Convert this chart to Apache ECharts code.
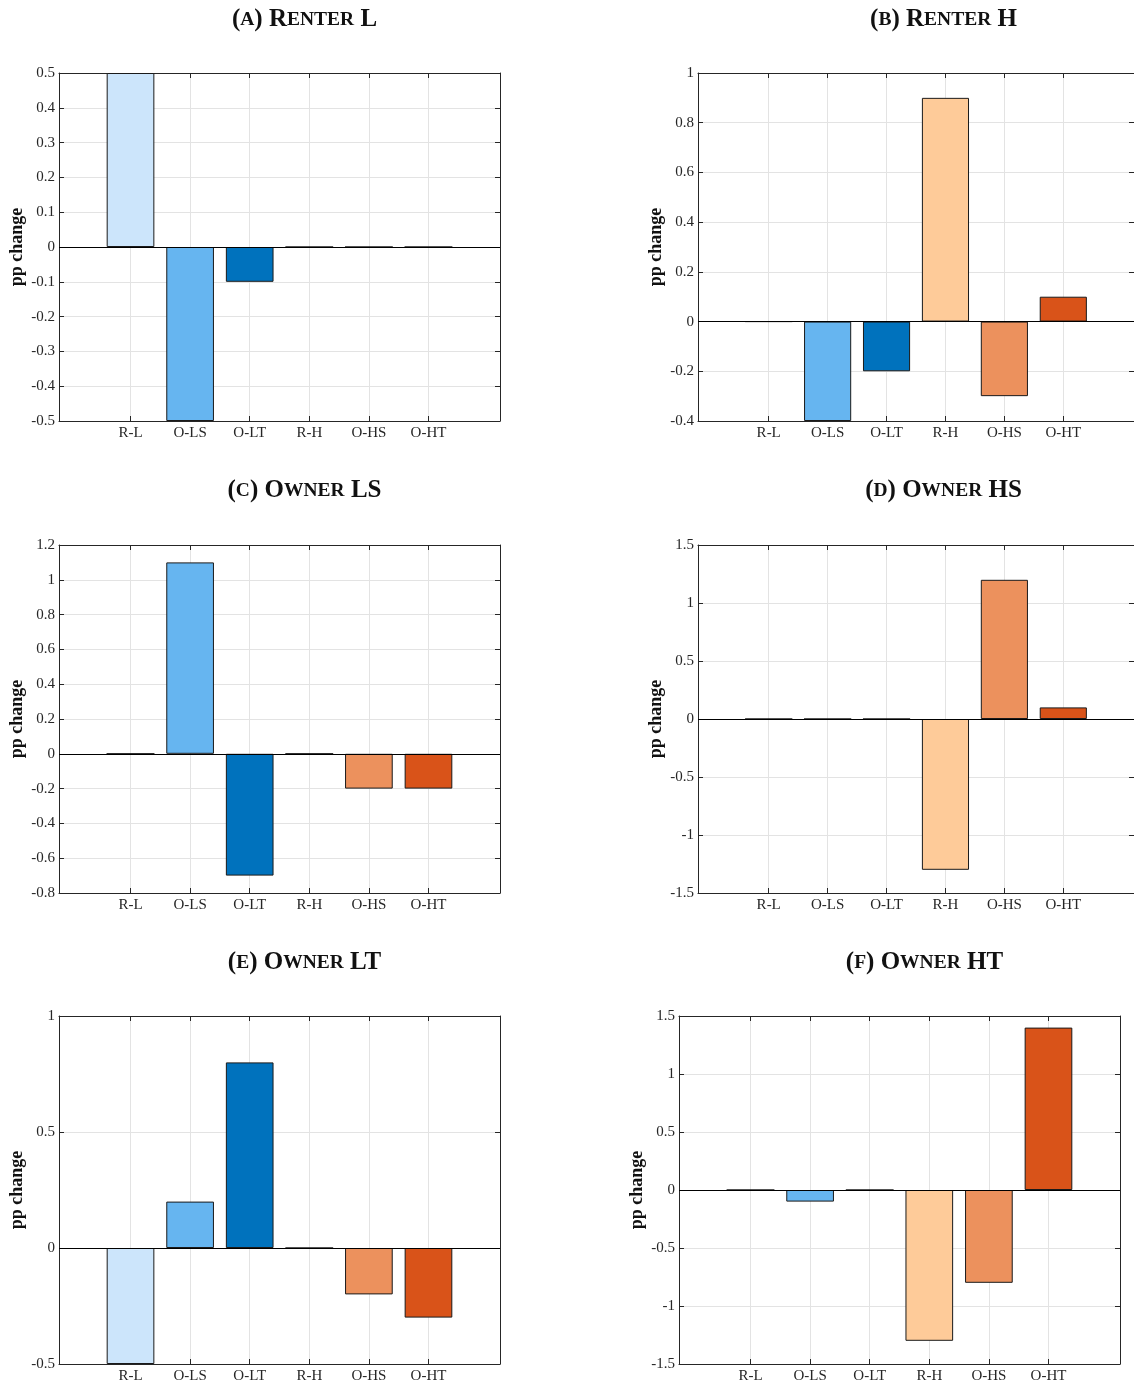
<!DOCTYPE html>
<html>
<head>
<meta charset="utf-8">
<script src="https://cdn.jsdelivr.net/npm/echarts@6/dist/echarts.min.js"></script>
<style>
html, body { margin: 0; padding: 0; background: #fff; }
#main { width: 1134px; height: 1387px; }
</style>
</head>
<body>
<div id="main"></div>
<script>
// categories and colours (same for every panel)
var categories = ['R-L', 'O-LS', 'O-LT', 'R-H', 'O-HS', 'O-HT'];
var barColors = ['#cce5fb', '#66b5f0', '#0072bd', '#fecb99', '#ec915d', '#d95319'];

var panelTitles = ['(a) Renter L', '(b) Renter H', '(c) Owner LS', '(d) Owner HS', '(e) Owner LT', '(f) Owner HT'];

// pp change per panel
var renterL = [0.5, -0.5, -0.1, 0, 0, 0];
var renterH = [0, -0.4, -0.2, 0.9, -0.3, 0.1];
var ownerLS = [0, 1.1, -0.7, 0, -0.2, -0.2];
var ownerHS = [0, 0, 0, -1.3, 1.2, 0.1];
var ownerLT = [-0.5, 0.2, 0.8, 0, -0.2, -0.3];
var ownerHT = [0, -0.1, 0, -1.3, -0.8, 1.4];
var panelValues = [renterL, renterH, ownerLS, ownerHS, ownerLT, ownerHT];

// y axis limits / tick steps
var yMin = [-0.5, -0.4, -0.8, -1.5, -0.5, -1.5];
var yMax = [0.5, 1, 1.2, 1.5, 1, 1.5];
var yStep = [0.1, 0.2, 0.2, 0.5, 0.5, 0.5];

// layout of the six axes boxes
var boxes = [[59, 73], [698, 73], [59, 545], [698, 545], [59, 1016], [679, 1016]];
var boxW = 441, boxH = 348;
var catPos = [1, 2, 3, 4, 5, 6];

var serif = 'Liberation Serif';
var axisColor = '#262626';
var gridColor = '#e3e3e3';

// "(a) Renter L" -> rich text in small caps
function smallCaps(str) {
    var out = '', cur = null, buf = '';
    for (var i = 0; i < str.length; i++) {
        var ch = str[i];
        var isSmall = ch !== ch.toUpperCase();
        var st = isSmall ? 's' : 'b';
        if (st !== cur && buf) {
            out += '{' + cur + '|' + buf + '}';
            buf = '';
        }
        cur = st;
        buf += ch.toUpperCase();
    }
    if (buf) out += '{' + cur + '|' + buf + '}';
    return out;
}

var titles = [], grids = [], xAxes = [], yAxes = [], series = [];

panelTitles.forEach(function (t, i) {
    var b = boxes[i];
    titles.push({
        text: smallCaps(t),
        left: b[0] + boxW / 2 + 20,
        top: [2, 2, 473, 473, 945, 945][i],
        textAlign: 'center',
        textStyle: {
            rich: {
                b: {fontFamily: serif, fontWeight: 'bold', fontSize: 25, color: '#111'},
                s: {fontFamily: serif, fontWeight: 'bold', fontSize: 19.5, color: '#111'}
            }
        }
    });

    grids.push({left: b[0], top: b[1], width: boxW, height: boxH});

    var tickStyle = {color: axisColor, width: 1};
    xAxes.push({
        type: 'value', gridIndex: i, position: 'bottom',
        min: -0.2, max: 7.2,
        axisLine: {show: true, onZero: false, lineStyle: tickStyle},
        axisTick: {show: true, inside: true, length: 5, customValues: catPos, lineStyle: tickStyle},
        axisLabel: {
            customValues: catPos,
            formatter: function (v) { return categories[Math.round(v) - 1] || ''; },
            fontFamily: serif, fontSize: 15, color: axisColor, margin: 5
        },
        splitLine: {show: true, lineStyle: {color: gridColor, width: 1}}
    });
    xAxes.push({
        type: 'value', gridIndex: i, position: 'top',
        min: -0.2, max: 7.2,
        axisLine: {show: true, onZero: false, lineStyle: tickStyle},
        axisTick: {show: true, inside: true, length: 5, customValues: catPos, lineStyle: tickStyle},
        axisLabel: {show: false},
        splitLine: {show: false}
    });

    yAxes.push({
        type: 'value', gridIndex: i, position: 'left',
        min: yMin[i], max: yMax[i], interval: yStep[i],
        name: 'pp change', nameLocation: 'middle', nameGap: 33,
        nameTextStyle: {fontFamily: serif, fontWeight: 'bold', fontSize: 18, color: '#111'},
        axisLine: {show: true, onZero: false, lineStyle: tickStyle},
        axisTick: {show: true, inside: true, length: 5, lineStyle: tickStyle},
        axisLabel: {fontFamily: serif, fontSize: 15, color: axisColor, margin: 4},
        splitLine: {show: true, lineStyle: {color: gridColor, width: 1}}
    });
    yAxes.push({
        type: 'value', gridIndex: i, position: 'right',
        min: yMin[i], max: yMax[i], interval: yStep[i],
        axisLine: {show: true, onZero: false, lineStyle: tickStyle},
        axisTick: {show: true, inside: true, length: 5, lineStyle: tickStyle},
        axisLabel: {show: false},
        splitLine: {show: false}
    });

    series.push({
        type: 'bar',
        xAxisIndex: 2 * i,
        yAxisIndex: 2 * i,
        barWidth: '80%',
        itemStyle: {borderColor: '#1a1a1a', borderWidth: 1},
        data: panelValues[i].map(function (v, k) {
            return {value: [k + 1, v], itemStyle: {color: barColors[k]}};
        }),
        markLine: {
            silent: true,
            symbol: 'none',
            label: {show: false},
            lineStyle: {color: '#000', width: 1, type: 'solid'},
            data: [{yAxis: 0}]
        }
    });
});

var chart = echarts.init(document.getElementById('main'));
chart.setOption({
    animation: false,
    backgroundColor: '#fff',
    title: titles,
    grid: grids,
    xAxis: xAxes,
    yAxis: yAxes,
    series: series
});
</script>
</body>
</html>
